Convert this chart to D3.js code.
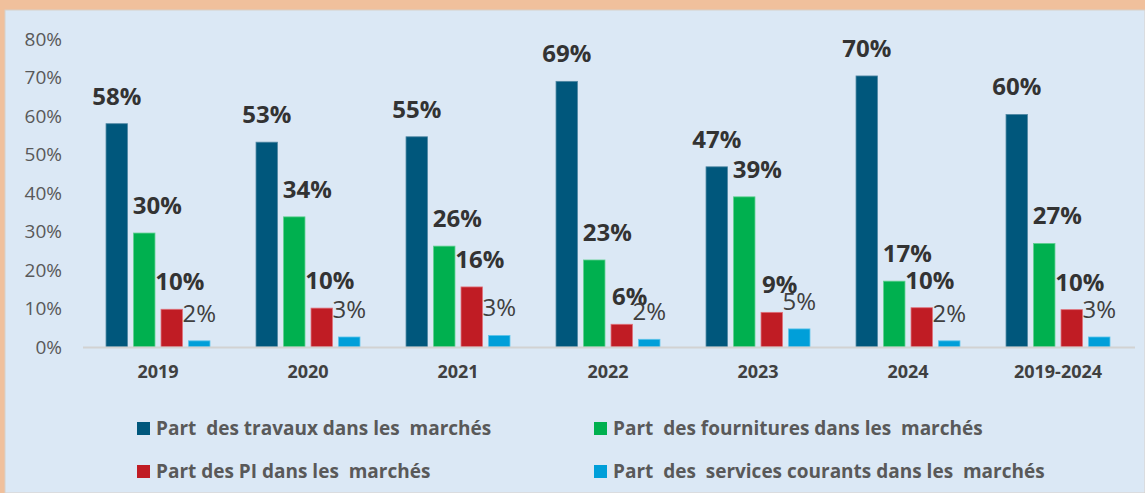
<!DOCTYPE html>
<html>
<head>
<meta charset="utf-8">
<script src="https://cdn.jsdelivr.net/npm/d3@7"></script>
<style>
  html, body { margin: 0; padding: 0; background: #f0c09c; }
  svg text { font-family: "Open Sans", sans-serif; white-space: pre; }
</style>
</head>
<body>
<div id="chart-area"></div>
<script>
const years = ["2019", "2020", "2021", "2022", "2023", "2024", "2019-2024"];
const seriesNames = [
  "Part  des travaux dans les  marchés",
  "Part  des fournitures dans les  marchés",
  "Part des PI dans les  marchés",
  "Part  des  services courants dans les  marchés"
];
const travaux     = [58.0, 53.2, 54.6, 69.0, 46.8, 70.4, 60.4];
const fournitures = [29.6, 33.8, 26.2, 22.6, 39.0, 17.1, 26.9];
const pi          = [9.8, 10.1, 15.6, 5.9, 9.0, 10.2, 9.7];
const services    = [1.6, 2.6, 3.0, 2.0, 4.7, 1.6, 2.6];
const yTicks = [0, 10, 20, 30, 40, 50, 60, 70, 80];

const seriesValues = [travaux, fournitures, pi, services];
const colors = ["#00577c", "#00b04f", "#c01c24", "#009fd9"];
const strokes = ["#4f87a3", "#5fd08f", "#e0707a", "#5fc4ea"];
const labelDx = [0, 13, 8, 0];
const labelBold = [true, true, true, false];

const svgWidth = 1145, svgHeight = 493;
const svg = d3.select("#chart-area")
              .append("svg")
              .attr("width", svgWidth)
              .attr("height", svgHeight)
              .style("display", "block");

// background panel
svg.append("rect")
   .attr("x", 5).attr("y", 10)
   .attr("width", svgWidth - 5).attr("height", svgHeight - 10)
   .attr("fill", "#dbe8f5")
   .attr("stroke", "#d8d0c8")
   .attr("stroke-width", 1);

const x0 = d3.scaleBand()
             .domain(years)
             .range([83, 1133]);
const x1 = d3.scaleBand()
             .domain(d3.range(4))
             .range([20, 130])
             .paddingInner(0.22)
             .paddingOuter(0.11);
const y = d3.scaleLinear()
            .domain([0, 80])
            .range([347, 39]);

// y axis labels
const yAxis = d3.axisLeft(y)
                .tickValues(yTicks)
                .tickFormat(d => d + "%")
                .tickSize(0)
                .tickPadding(0);
const gy = svg.append("g")
              .attr("transform", "translate(62,0)")
              .call(yAxis);
gy.select(".domain").remove();
gy.selectAll("text")
  .attr("fill", "#595959")
  .style("font-size", "19px")
  .style("font-family", "'Open Sans', sans-serif");

// bars
const groups = svg.selectAll("g.year")
                  .data(years)
                  .enter()
                  .append("g")
                  .attr("class", "year")
                  .attr("transform", d => `translate(${x0(d)},0)`);

seriesValues.forEach((vals, s) => {
  groups.append("rect")
        .attr("x", x1(s))
        .attr("width", x1.bandwidth())
        .attr("y", (d, i) => y(vals[i]))
        .attr("height", (d, i) => y(0) - y(vals[i]))
        .attr("fill", colors[s])
        .attr("stroke", strokes[s])
        .attr("stroke-width", 0.8);
});

// baseline
svg.append("line")
   .attr("x1", 83).attr("x2", 1135)
   .attr("y1", y(0) + 0.5).attr("y2", y(0) + 0.5)
   .attr("stroke", "#d2d2d2")
   .attr("stroke-width", 2);

// data labels
seriesValues.forEach((vals, s) => {
  groups.append("text")
        .attr("x", x1(s) + x1.bandwidth() / 2 + labelDx[s])
        .attr("y", (d, i) => y(vals[i]) - 19)
        .attr("text-anchor", "middle")
        .attr("fill", labelBold[s] ? "#333333" : "#404040")
        .style("font-size", "24px")
        .style("font-weight", labelBold[s] ? 700 : 400)
        .text((d, i) => Math.round(vals[i]) + "%");
});

// x axis labels
const xAxis = d3.axisBottom(x0).tickSize(0).tickPadding(0);
const gx = svg.append("g")
              .attr("transform", "translate(0,372)")
              .call(xAxis);
gx.select(".domain").remove();
gx.selectAll("text")
  .attr("fill", "#404040")
  .attr("dy", "0.32em")
  .style("font-size", "18px")
  .style("font-weight", 700)
  .style("font-family", "'Open Sans', sans-serif");

// legend
const legendPos = [[137, 435], [594, 435], [137, 478], [594, 478]];
const legend = svg.selectAll("g.legend")
                  .data(seriesNames)
                  .enter()
                  .append("g")
                  .attr("class", "legend")
                  .attr("transform", (d, i) => `translate(${legendPos[i][0]},${legendPos[i][1]})`);
legend.append("rect")
      .attr("x", 0).attr("y", -13)
      .attr("width", 13).attr("height", 13)
      .attr("fill", (d, i) => colors[i]);
legend.append("text")
      .attr("x", 19)
      .attr("y", 0)
      .attr("fill", "#595959")
      .style("font-size", "19px")
      .style("font-weight", 700)
      .text(d => d);
</script>
</body>
</html>
